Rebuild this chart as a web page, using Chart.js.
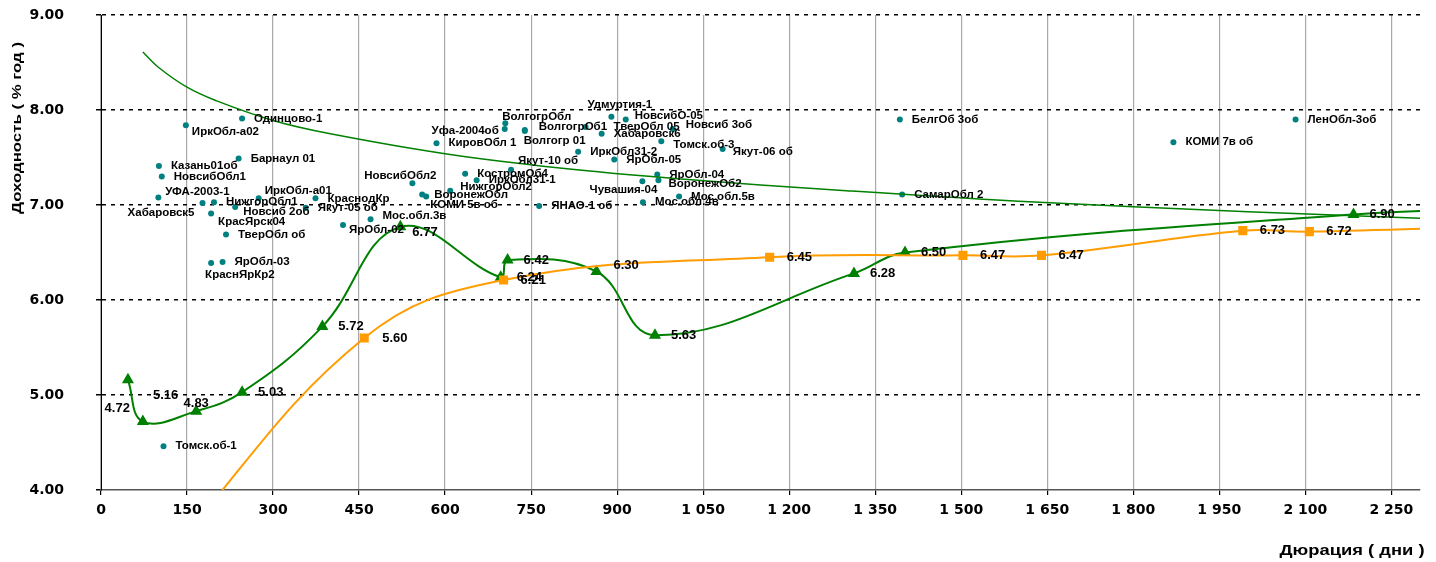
<!DOCTYPE html>
<html>
<head>
<meta charset="utf-8">
<script src="https://cdn.jsdelivr.net/npm/chart.js@4.4.1/dist/chart.umd.min.js"></script>
<style>
  html, body { margin: 0; padding: 0; background: #fff; }
</style>
</head>
<body>
<canvas id="chart" width="1436" height="562"></canvas>
<script>
// Облигации: название, дюрация (дни), доходность (% год)
const bondNames = [
  'Одинцово-1', 'ИркОбл-а02', 'Барнаул 01', 'Казань01об', 'НовсибОбл1', 'УФА-2003-1',
  'Хабаровск5', 'НижгорОбл1', 'ИркОбл-а01', 'Новсиб 2об', 'КрасЯрск04', 'ТверОбл об',
  'ЯрОбл-03', 'КраснЯрКр2', 'КраснодКр', 'Якут-05 об', 'ЯрОбл-02', 'Мос.обл.3в',
  'ВолгогрОбл', 'Уфа-2004об', 'ВолгогрОб1', 'Волгогр 01', 'КировОбл 1', 'Якут-10 об',
  'НовсибОбл2', 'КостромОб4', 'ИркОбл31-1', 'НижгорОбл2', 'ВоронежОбл', 'КОМИ 5в об',
  'ЯНАО-1 об', 'Удмуртия-1', 'НовсибО-05', 'ТверОбл 05', 'Новсиб 3об', 'Хабаровск6',
  'Томск.об-3', 'Якут-06 об', 'ИркОбл31-2', 'ЯрОбл-05', 'ЯрОбл-04', 'ВоронежОб2',
  'Чувашия-04', 'Мос.обл.5в', 'Мос.обл.4в', 'БелгОб 3об', 'СамарОбл 2', 'КОМИ 7в об',
  'ЛенОбл-3об', 'Томск.об-1'
];
const bondDur = [
  246, 148, 240, 101, 106, 100,
  177, 197, 275, 234, 192, 218,
  212, 192, 374, 357, 422, 470,
  705, 704, 739, 739, 585, 715,
  543, 635, 655, 609, 560, 567,
  764, 890, 915, 845, 997, 873,
  977, 1084, 832, 895, 970, 972,
  944, 1008, 945, 1393, 1397, 1870,
  2083, 109
];
const bondYld = [
  7.91, 7.84, 7.49, 7.41, 7.30, 7.08,
  7.02, 7.03, 7.07, 6.98, 6.91, 6.69,
  6.40, 6.39, 7.07, 6.97, 6.79, 6.85,
  7.86, 7.80, 7.79, 7.78, 7.65, 7.37,
  7.23, 7.33, 7.26, 7.15, 7.11, 7.09,
  6.99, 7.93, 7.90, 7.82, 7.80, 7.75,
  7.67, 7.59, 7.56, 7.48, 7.32, 7.26,
  7.25, 7.09, 7.03, 7.90, 7.11, 7.66,
  7.90, 4.46
];

// Зелёная кривая (треугольники)
const greenDur = [47, 73, 166, 246, 386, 522, 697, 709, 864, 966, 1313, 1402, 2184, 2500];
const greenYld = [5.16, 4.72, 4.83, 5.03, 5.72, 6.77, 6.24, 6.42, 6.30, 5.63, 6.28, 6.50, 6.90, 6.97];

// Оранжевая кривая (квадраты)
const orangeDur = [120, 459, 702, 1166, 1503, 1640, 1991, 2107, 2500];
const orangeYld = [3.35, 5.60, 6.21, 6.45, 6.47, 6.47, 6.73, 6.72, 6.79];

// Тренд по облигациям
const trendDur = [73, 100, 150, 200, 300, 400, 600, 800, 1000, 1300, 1600, 2000, 2300];
const trendYld = [8.61, 8.45, 8.24, 8.10, 7.89, 7.75, 7.54, 7.39, 7.28, 7.15, 7.04, 6.93, 6.86];

// Сдвиги подписей [dx, dy, выравнивание]
const bondNudge = {
  1: [6, 7], 5: [7, -6], 6: [-8, 10, 'right'], 8: [6, -8], 9: [8, 5], 10: [7, 8],
  13: [-6, 12], 16: [6, 5], 17: [12, -3], 18: [-3, -6], 19: [-6, 2, 'right'],
  20: [14, -3], 21: [-1, 10], 23: [7, -9], 24: [24, -7, 'right'], 27: [10, -4],
  29: [4, 8], 31: [-24, -12], 32: [9, -4], 33: [28, 0], 34: [13, -4], 36: [12, 3],
  37: [10, 3], 41: [10, 4], 42: [15, 9, 'right']
};
const greenNudge = { 0: [25, 16], 1: [-13, -13, 'right'], 2: [0, -8, 'center'], 5: [12, 6], 8: [17, -6] };
const orangeNudge = { 1: [18, 0] };

const pts = (xs, ys) => xs.map((x, i) => ({ x: x, y: ys[i] }));
const fmtVal = v => v.toFixed(2);
const FONT = '"Liberation Sans", Arial, sans-serif';
const WIDE = '"DejaVu Sans", Verdana, sans-serif';

// текст, растянутый до нужной длины
function stretchText(ctx, txt, x, y, len) {
  const w = ctx.measureText(txt).width;
  ctx.save();
  ctx.translate(x, y);
  ctx.scale(len / w, 1);
  ctx.fillText(txt, 0, 0);
  ctx.restore();
}

const labelPlugin = {
  id: 'pointLabels',
  afterDatasetsDraw(chart) {
    const ctx = chart.ctx;
    const area = chart.chartArea;
    ctx.save();
    ctx.fillStyle = '#000';
    ctx.textBaseline = 'middle';
    chart.data.datasets.forEach((ds, i) => {
      if (!ds.pointLabels) return;
      const meta = chart.getDatasetMeta(i);
      ctx.font = ds.labelFont;
      meta.data.forEach((pt, j) => {
        const txt = ds.pointLabels[j];
        if (!txt || pt.x > area.right || pt.y > area.bottom) return;
        const n = ds.labelNudge[j] || [ds.labelDx, 0];
        ctx.textAlign = n[2] || 'left';
        ctx.fillText(txt, pt.x + n[0], pt.y + n[1]);
      });
    });
    ctx.restore();
  },
  afterDraw(chart) {
    const ctx = chart.ctx;
    ctx.save();
    ctx.fillStyle = '#000';
    ctx.textAlign = 'center';
    ctx.textBaseline = 'middle';
    ctx.font = 'bold 14px ' + FONT;
    stretchText(ctx, 'Дюрация ( дни )', 1352, 551, 145);
    ctx.translate(17, 128);
    ctx.rotate(-Math.PI / 2);
    ctx.font = 'bold 13px ' + FONT;
    stretchText(ctx, 'Доходность ( % год )', 0, 0, 172);
    ctx.restore();
  }
};

new Chart(document.getElementById('chart'), {
  type: 'line',
  data: {
    datasets: [
      {
        label: 'Тренд',
        data: pts(trendDur, trendYld),
        borderColor: '#008000',
        borderWidth: 1.5,
        pointRadius: 0,
        tension: 0.4
      },
      {
        label: 'Оранжевая',
        data: pts(orangeDur, orangeYld),
        borderColor: '#FF9C00',
        backgroundColor: '#FF9C00',
        borderWidth: 2,
        pointStyle: 'rect',
        pointRadius: 5,
        tension: 0.4,
        pointLabels: orangeYld.map((v, i) => i === 0 ? null : fmtVal(v)),
        labelNudge: orangeNudge,
        labelDx: 17,
        labelFont: 'bold 13px ' + FONT
      },
      {
        label: 'Зелёная',
        data: pts(greenDur, greenYld),
        borderColor: '#008000',
        backgroundColor: '#008000',
        borderWidth: 2,
        pointStyle: 'triangle',
        pointRadius: 5,
        tension: 0.4,
        pointLabels: greenYld.map(fmtVal),
        labelNudge: greenNudge,
        labelDx: 16,
        labelFont: 'bold 13px ' + FONT
      },
      {
        label: 'Облигации',
        type: 'scatter',
        data: pts(bondDur, bondYld),
        showLine: false,
        backgroundColor: '#008080',
        borderColor: '#008080',
        borderWidth: 0,
        pointRadius: 3,
        pointLabels: bondNames,
        labelNudge: bondNudge,
        labelDx: 12,
        labelFont: 'bold 11.5px ' + FONT
      }
    ]
  },
  options: {
    responsive: false,
    animation: false,
    layout: { padding: { left: 0, top: 15, right: 16, bottom: 0 } },
    plugins: {
      legend: { display: false },
      tooltip: { enabled: false }
    },
    scales: {
      x: {
        type: 'linear',
        min: 0,
        max: 2300,
        afterFit: s => { s.height = 72; s.paddingRight = 0; },
        grid: { color: '#a8a8a8', lineWidth: 1.2, tickColor: '#000', tickLength: 5 },
        border: { color: '#555', width: 1.5 },
        ticks: {
          stepSize: 150,
          includeBounds: false,
          padding: 7,
          color: '#000',
          font: { family: WIDE, size: 14, weight: 'bold' },
          callback: v => String(v).replace(/\B(?=(\d{3})+(?!\d))/g, ' ')
        }
      },
      y: {
        type: 'linear',
        min: 4,
        max: 9,
        afterFit: s => { s.width = 101; s.paddingTop = 0; s.paddingBottom = 0; },
        grid: {
          color: c => (c.tick && c.tick.value === 4) ? 'rgba(0,0,0,0)' : '#000',
          lineWidth: 1.5, tickColor: '#000', tickLength: 5
        },
        border: { color: '#000', width: 1, dash: [4, 5] },
        ticks: {
          stepSize: 1,
          padding: 32,
          color: '#000',
          font: { family: WIDE, size: 14, weight: 'bold' },
          callback: v => v.toFixed(2)
        }
      }
    }
  },
  plugins: [labelPlugin]
});
</script>
</body>
</html>
